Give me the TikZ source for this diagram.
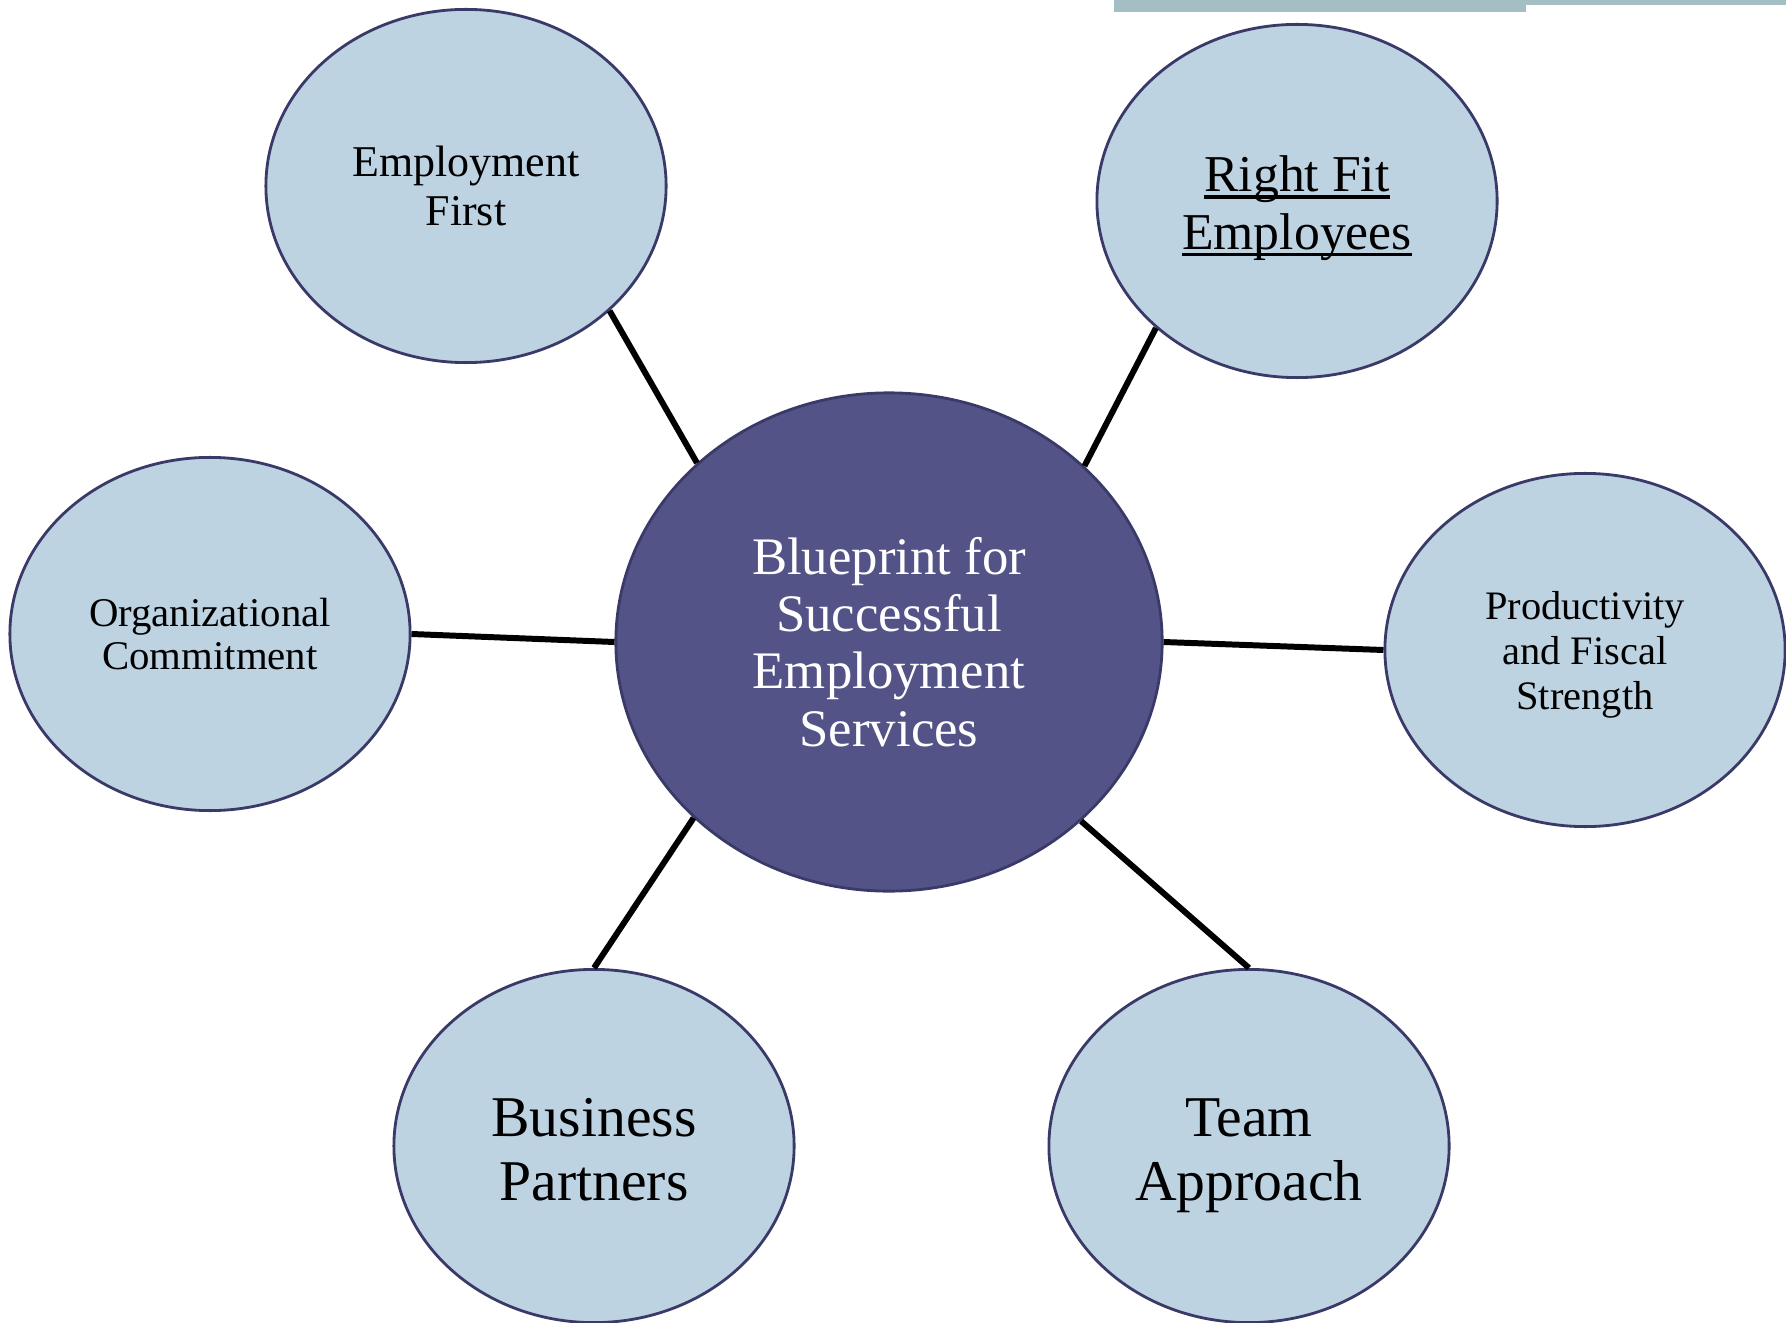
\documentclass[tikz,border=0pt]{standalone}
\usepackage{fontspec}
\setmainfont{Liberation Serif}
\usetikzlibrary{shapes.geometric}
\definecolor{bubblefill}{RGB}{190,211,226}
\definecolor{bubbleedge}{RGB}{58,58,104}
\definecolor{hubfill}{RGB}{83,83,135}
\definecolor{bandcolor}{RGB}{163,191,196}
\tikzset{
  bubble/.style={ellipse, draw=bubbleedge, line width=0.8pt, fill=bubblefill,
    minimum width=4cm, minimum height=3.53cm, inner sep=0pt, align=center, text=black},
  hub/.style={ellipse, draw=bubbleedge, line width=0.8pt, fill=hubfill,
    minimum width=5.46cm, minimum height=4.98cm, inner sep=0pt, align=center, text=white},
  spoke/.style={line width=1.7pt, black}
}
\newcommand{\fs}[2]{\fontsize{#1}{#2}\selectfont}
% underline drawn close to the baseline, crossing the descenders
\newcommand{\lowline}[1]{\setbox0\hbox{#1}\rlap{\rule[-2.1pt]{\wd0}{1.1pt}}\box0}
% invisible strut that sets the height of a first line
\newcommand{\tallas}[1]{\rule{0pt}{#1}}
\begin{document}
\begin{tikzpicture}[x=0.01cm,y=-0.01cm]
\useasboundingbox (0,0) rectangle (1786,1322);

% band along the top edge
\fill[bandcolor] (1114,0) rectangle (1526,12);
\fill[bandcolor] (1526,0) rectangle (1786,5);

% hub
\node[hub, font=\fs{15}{16.3}] (hub) at (889,642) {Blueprint for\\Successful\\Employment\\Services};

% surrounding bubbles
\node[bubble, font=\fs{12.5}{13.7}] (ef)   at (466,186)  {Employment\\First};
\node[bubble, font=\fs{14.7}{16.3}] (rf)   at (1297,201) {\tallas{14.2pt}\lowline{Right Fit}\\\lowline{Employees}};
\node[bubble, font=\fs{11.6}{12.3}] (org)  at (210,634)  {Organizational\\Commitment};
\node[bubble, font=\fs{11.5}{12.9}] (prod) at (1585,650) {\tallas{10.7pt}Productivity\\and Fiscal\\Strength};
\node[bubble, font=\fs{16.4}{18.2}] (bus)  at (594,1146) {\tallas{13pt}Business\\Partners};
\node[bubble, font=\fs{16.4}{18.2}] (team) at (1249,1146){\tallas{16pt}Team\\Approach};

% spokes
\draw[spoke] (ef.-41.4)  -- (hub.137.5);
\draw[spoke] (rf.222)    -- (hub.42.5);
\draw[spoke] (org.0)     -- (hub.180);
\draw[spoke] (prod.180)  -- (hub.0);
\draw[spoke] (bus.90.3)  -- (hub.222.5);
\draw[spoke] (team.90)   -- (hub.317.6);
\end{tikzpicture}
\end{document}
